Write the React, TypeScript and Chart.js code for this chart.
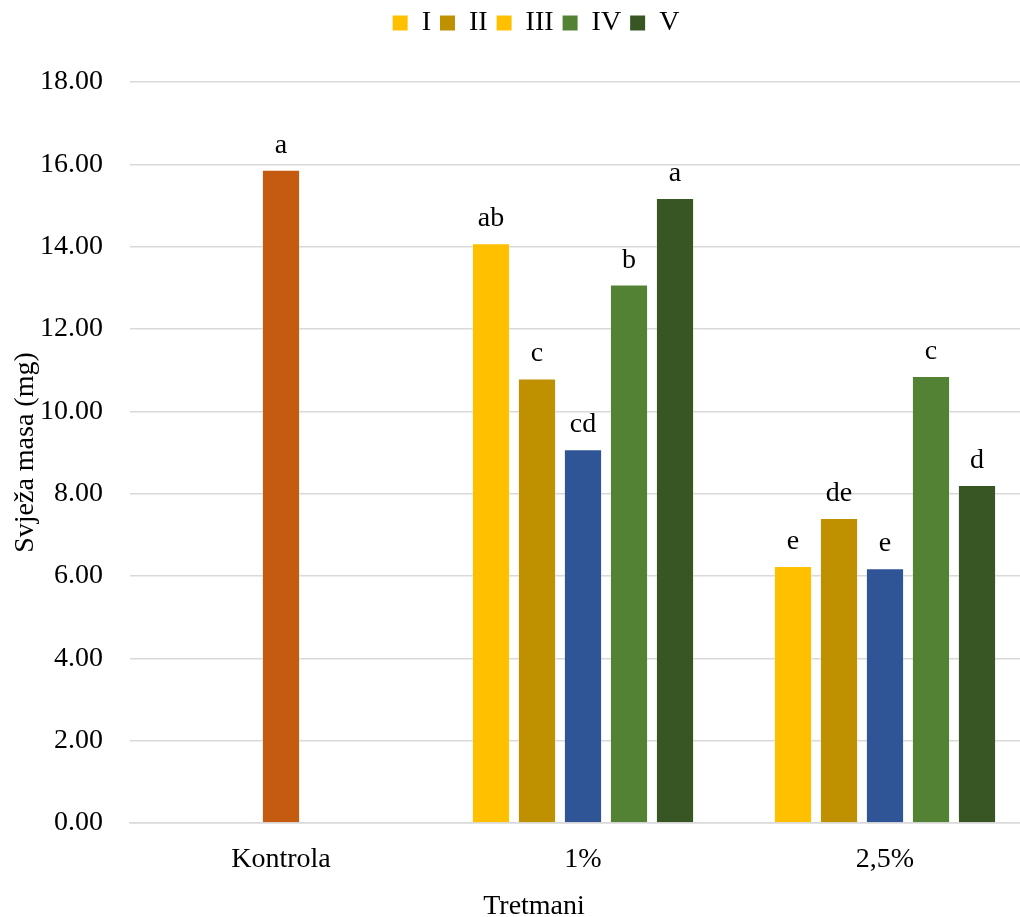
import React, { useEffect, useRef } from "react";
import { Chart, registerables } from "chart.js";

Chart.register(...registerables);

const categories = ["Kontrola", "1%", "2,5%"];
const seriesNames = ["I", "II", "III", "IV", "V"];
const valuesI = [null, 14.08, 6.24];
const valuesII = [null, 10.8, 7.41];
const valuesIII = [15.87, 9.08, 6.19];
const valuesIV = [null, 13.08, 10.86];
const valuesV = [null, 15.18, 8.21];
const lettersI = ["", "ab", "e"];
const lettersII = ["", "c", "de"];
const lettersIII = ["a", "cd", "e"];
const lettersIV = ["", "b", "c"];
const lettersV = ["", "a", "d"];
const yTicks = [0, 2, 4, 6, 8, 10, 12, 14, 16, 18];

const seriesColors = ["#FFC000", "#BF9000", ["#C55A11", "#2F5597", "#2F5597"], "#548235", "#375623"];
const legendColors = ["#FFC000", "#BF9000", "#FFC000", "#548235", "#375623"];
const allValues = [valuesI, valuesII, valuesIII, valuesIV, valuesV];
const allLetters = [lettersI, lettersII, lettersIII, lettersIV, lettersV];

const FONT = "'Liberation Serif', 'Times New Roman', serif";

export default function App() {
  const ref = useRef<HTMLCanvasElement | null>(null);

  useEffect(() => {
    if (!ref.current) return;

    const legendHeight = {
      id: "legendHeight",
      beforeInit(chart: any) {
        const orig = chart.legend.fit;
        chart.legend.fit = function () {
          orig.bind(chart.legend)();
          this.height = 82;
        };
      },
      afterLayout(chart: any) {
        const lg = chart.legend;
        lg.left += 18;
        lg.right += 18;
      },
    };

    const letterPlugin = {
      id: "letters",
      afterDatasetsDraw(chart: any) {
        const ctx = chart.ctx;
        ctx.save();
        ctx.font = `28px ${FONT}`;
        ctx.fillStyle = "#000";
        ctx.textAlign = "center";
        ctx.textBaseline = "alphabetic";
        chart.data.datasets.forEach((ds: any, i: number) => {
          const meta = chart.getDatasetMeta(i);
          meta.data.forEach((el: any, j: number) => {
            const v = ds.data[j];
            const t = allLetters[i][j];
            if (v == null || !t) return;
            ctx.fillText(t, el.x, el.y - 17);
          });
        });
        ctx.restore();
      },
    };

    const titlesPlugin = {
      id: "titles",
      afterDraw(chart: any) {
        const ctx = chart.ctx;
        const ca = chart.chartArea;
        ctx.save();
        ctx.font = `28px ${FONT}`;
        ctx.fillStyle = "#000";
        ctx.textAlign = "center";
        ctx.textBaseline = "middle";
        ctx.fillText("Tretmani", chart.width / 2, 907);
        ctx.translate(26, (ca.top + ca.bottom) / 2);
        ctx.rotate(-Math.PI / 2);
        ctx.fillText("Svježa masa (mg)", 0, 0);
        ctx.restore();
      },
    };

    const chart = new Chart(ref.current, {
      type: "bar",
      data: {
        labels: categories,
        datasets: seriesNames.map((name, i) => ({
          label: name,
          data: allValues[i] as any,
          backgroundColor: seriesColors[i] as any,
          borderColor: "rgba(255,255,255,0.3)",
          borderWidth: 1,
          categoryPercentage: 0.7616,
          barPercentage: 0.83,
        })),
      },
      options: {
        responsive: false,
        animation: false,
        devicePixelRatio: 1,
        layout: { padding: { left: 0, right: 32, top: 0, bottom: 0 } },
        plugins: {
          tooltip: { enabled: false },
          legend: {
            display: true,
            position: "top",
            labels: {
              font: { family: FONT, size: 28 },
              color: "#000",
              boxWidth: 15,
              boxHeight: 15,
              padding: 9,
              generateLabels: (chart: any) =>
                seriesNames.map((n, i) => ({
                  text: n,
                  fillStyle: legendColors[i],
                  strokeStyle: legendColors[i],
                  lineWidth: 0,
                  hidden: false,
                  datasetIndex: i,
                  fontColor: "#000",
                })),
            },
          },
        },
        scales: {
          x: {
            grid: { display: false, drawTicks: false },
            border: { display: true, color: "#D9D9D9", width: 1.5 },
            ticks: {
              font: { family: FONT, size: 28 },
              color: "#000",
              padding: 20,
            },
            afterFit(scale: any) {
              scale.height = 94;
            },
          },
          y: {
            min: 0,
            max: 18,
            afterBuildTicks(scale: any) {
              scale.ticks = yTicks.map((v) => ({ value: v }));
            },
            grid: { color: "#D9D9D9", lineWidth: 1.5, drawTicks: false },
            border: { display: false },
            ticks: {
              font: { family: FONT, size: 28 },
              color: "#000",
              padding: 27,
              callback: (v: any) => Number(v).toFixed(2),
            },
            afterFit(scale: any) {
              scale.width = 130;
            },
          },
        },
      },
      plugins: [legendHeight, letterPlugin, titlesPlugin],
    } as any);

    return () => chart.destroy();
  }, []);

  return (
    <div style={{ position: "fixed", left: 0, top: 0, width: 1020, height: 917, overflow: "hidden", background: "#fff" }}>
      <canvas ref={ref} width={1068} height={917} style={{ display: "block", width: 1068, height: 917 }} />
    </div>
  );
}
